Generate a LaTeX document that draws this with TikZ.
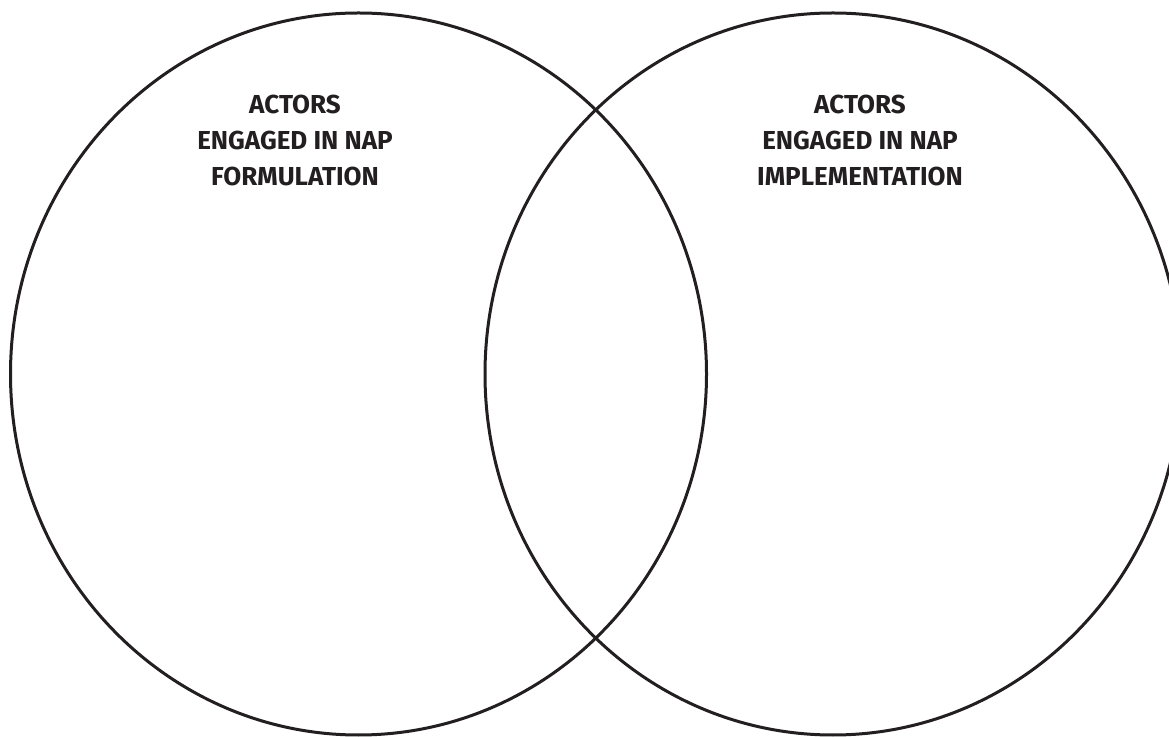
\documentclass[tikz,border=0pt]{standalone}
\usepackage{fontspec}
\setmainfont{Fira Sans}
\usepackage{xcolor}
\definecolor{inkblack}{HTML}{231F20}

\begin{document}
\begin{tikzpicture}[x=1pt, y=1pt]
			\def\rX{348};
			\def\rY{361};
			\def\yC{362};

			\useasboundingbox (0,0) rectangle (1169,736);

			\begin{scope}[line width=3pt, draw=inkblack]
				\clip (0,0) rectangle (1169,736);
				\draw (358.5,\yC) ellipse [x radius=\rX, y radius=\rY];
				\draw (833,\yC) ellipse [x radius=\rX, y radius=\rY];
			\end{scope}

			\begin{scope}[every node/.style={align=center, text=inkblack, font=\bfseries\fontsize{26}{36}\selectfont}]
				\node (formulation) at (295,596) {ACTORS\\ENGAGED IN NAP\\FORMULATION};
				\node (implementation) at (860,596) {ACTORS\\ENGAGED IN NAP\\IMPLEMENTATION};
			\end{scope}
		\end{tikzpicture}
\end{document}
